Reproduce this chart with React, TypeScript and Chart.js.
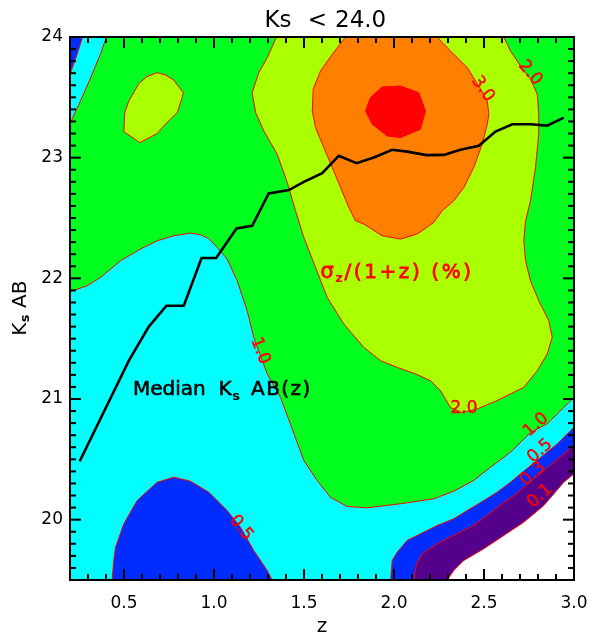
import React, { useEffect, useRef } from 'react';
import { Chart, registerables } from 'chart.js';

Chart.register(...registerables);

// ---- axes ----
const Z_MIN = 0.2;
const Z_MAX = 3.0;
const K_MIN = 19.5;
const K_MAX = 24.0;
const X_TICKS = [0.5, 1.0, 1.5, 2.0, 2.5, 3.0];
const Y_TICKS = [20, 21, 22, 23, 24];

// ---- median Ks AB(z) ----
const MEDIAN_Z = [0.254, 0.527, 0.638, 0.736, 0.832, 0.931, 1.012, 1.125, 1.212, 1.304, 1.416, 1.499, 1.601, 1.693, 1.792, 1.888, 1.99, 2.073, 2.181, 2.277, 2.369, 2.471, 2.564, 2.657, 2.758, 2.851, 2.943];
const MEDIAN_K = [20.484, 21.318, 21.6, 21.773, 21.773, 22.168, 22.168, 22.413, 22.435, 22.704, 22.731, 22.8, 22.872, 23.015, 22.954, 23.001, 23.065, 23.05, 23.021, 23.023, 23.065, 23.098, 23.216, 23.277, 23.277, 23.266, 23.332];

// ---- filled contour regions of sigma_z/(1+z) (%), [z, Ks] vertices ----
const REGION_ALL = [[0.2, 19.5], [3.0, 19.5], [3.0, 24], [0.2, 24]];
const CYAN_TOPLEFT = [[0.2, 24], [0.403, 24], [0.369, 23.857], [0.314, 23.66], [0.258, 23.47], [0.2, 23.28]];
const BLUE_TOPLEFT = [[0.2, 24], [0.27, 24], [0.24, 23.86], [0.2, 23.69]];
const YG_ISLAND = [[0.684, 23.704], [0.731, 23.685], [0.777, 23.642], [0.829, 23.539], [0.823, 23.498], [0.796, 23.373], [0.737, 23.29], [0.684, 23.2], [0.588, 23.125], [0.499, 23.216], [0.504, 23.373], [0.527, 23.47], [0.582, 23.613], [0.626, 23.67], [0.684, 23.704]];
const YG_MAIN = [[1.347, 24], [1.296, 23.829], [1.249, 23.705], [1.212, 23.539], [1.231, 23.373], [1.277, 23.222], [1.351, 23.029], [1.407, 22.794], [1.453, 22.56], [1.499, 22.339], [1.564, 22.09], [1.629, 21.842], [1.721, 21.622], [1.832, 21.428], [1.925, 21.318], [2.018, 21.262], [2.119, 21.208], [2.203, 21.152], [2.258, 21.07], [2.314, 20.929], [2.378, 20.888], [2.462, 20.918], [2.573, 20.987], [2.721, 21.097], [2.796, 21.235], [2.851, 21.373], [2.879, 21.511], [2.86, 21.649], [2.804, 21.815], [2.758, 21.98], [2.731, 22.146], [2.721, 22.311], [2.731, 22.477], [2.758, 22.642], [2.786, 22.918], [2.804, 23.195], [2.804, 23.36], [2.796, 23.526], [2.758, 23.652], [2.703, 23.76], [2.647, 23.884], [2.61, 24]];
const ORANGE = [[1.731, 24], [1.657, 23.857], [1.592, 23.719], [1.551, 23.567], [1.546, 23.387], [1.564, 23.249], [1.61, 23.084], [1.657, 22.918], [1.703, 22.753], [1.749, 22.587], [1.786, 22.477], [1.832, 22.45], [1.934, 22.353], [2.036, 22.325], [2.129, 22.367], [2.221, 22.463], [2.268, 22.56], [2.332, 22.642], [2.388, 22.753], [2.443, 22.918], [2.49, 23.112], [2.518, 23.277], [2.527, 23.36], [2.518, 23.47], [2.481, 23.57], [2.407, 23.746], [2.351, 23.829], [2.296, 23.911], [2.24, 24]];
const RED_CORE = [[1.842, 23.387], [1.869, 23.498], [1.934, 23.586], [2.036, 23.594], [2.138, 23.539], [2.175, 23.387], [2.147, 23.236], [2.036, 23.166], [1.962, 23.18], [1.879, 23.277], [1.842, 23.387]];
const CYAN_MAIN = [[0.2, 21.889], [0.296, 21.939], [0.369, 22.007], [0.481, 22.146], [0.592, 22.243], [0.684, 22.311], [0.777, 22.353], [0.869, 22.375], [0.925, 22.361], [0.971, 22.33], [1.018, 22.256], [1.073, 22.16], [1.129, 21.98], [1.184, 21.732], [1.221, 21.511], [1.258, 21.359], [1.296, 21.208], [1.369, 21.014], [1.425, 20.79], [1.499, 20.49], [1.573, 20.325], [1.647, 20.186], [1.74, 20.109], [1.851, 20.098], [2.036, 20.132], [2.221, 20.173], [2.332, 20.236], [2.443, 20.325], [2.536, 20.435], [2.61, 20.517], [2.657, 20.573], [2.758, 20.722], [2.851, 20.794], [3.0, 21.014], [3.0, 19.5], [0.2, 19.5]];
const BLUE_LOW = [[0.434, 19.5], [0.443, 19.662], [0.453, 19.772], [0.499, 19.966], [0.573, 20.159], [0.684, 20.31], [0.777, 20.352], [0.869, 20.319], [0.971, 20.228], [1.073, 20.076], [1.147, 19.938], [1.221, 19.745], [1.296, 19.579], [1.323, 19.5]];
const BLUE_HIGHZ = [[1.981, 19.5], [1.99, 19.662], [2.018, 19.731], [2.073, 19.828], [2.166, 19.897], [2.24, 19.952], [2.332, 20.007], [2.407, 20.076], [2.499, 20.159], [2.573, 20.228], [2.647, 20.31], [2.703, 20.38], [2.805, 20.504], [2.907, 20.628], [3.0, 20.766], [3.0, 19.5]];
const PURPLE_HIGHZ = [[2.11, 19.5], [2.125, 19.635], [2.157, 19.718], [2.24, 19.8], [2.332, 19.869], [2.425, 19.938], [2.518, 20.035], [2.61, 20.145], [2.666, 20.2], [2.832, 20.407], [3.0, 20.614], [3.0, 19.5]];
const WHITE_HIGHZ = [[2.296, 19.5], [2.332, 19.579], [2.388, 19.662], [2.499, 19.759], [2.61, 19.869], [2.721, 19.979], [2.832, 20.117], [2.943, 20.31], [3.0, 20.38], [3.0, 19.5]];

// contour level labels: text, z, Ks, angle (deg)
const LEVEL_TEXT = ['3.0', '2.0', '1.0', '2.0', '0.5', '1.0', '0.5', '0.3', '0.1'];
const LEVEL_Z = [2.494, 2.756, 1.256, 2.389, 1.15, 2.789, 2.811, 2.772, 2.811];
const LEVEL_K = [23.569, 23.702, 21.398, 20.917, 19.931, 20.785, 20.569, 20.379, 20.196];
const LEVEL_ANGLE = [55, 50, 68, 0, 52, -42, -42, -42, -42];

const C_GREEN = 'rgb(0,255,30)';
const C_CYAN = 'rgb(0,255,255)';
const C_YG = 'rgb(170,255,0)';
const C_ORANGE = 'rgb(255,128,0)';
const C_RED = 'rgb(255,0,0)';
const C_BLUE = 'rgb(0,45,255)';
const C_PURPLE = 'rgb(85,0,140)';
const C_WHITE = 'rgb(255,255,255)';

const FONT = '"DejaVu Sans", "Noto Sans", sans-serif';

function poly(pts: number[][], color: string, edge: boolean) {
  return {
    data: pts.map(([x, y]) => ({ x, y })),
    backgroundColor: color,
    borderColor: edge ? 'rgb(255,0,0)' : 'rgba(0,0,0,0)',
    borderWidth: edge ? 1 : 0,
    fill: 'shape',
    pointRadius: 0,
    tension: 0,
  };
}

// draw text char by char with extra spacing, optionally thickened; returns end x
function spaced(ctx: any, text: string, x: number, y: number, gap: number, thick: number) {
  let px = x;
  for (const ch of text) {
    ctx.fillText(ch, px, y);
    if (thick > 0) ctx.strokeText(ch, px, y);
    px += ctx.measureText(ch).width + gap;
  }
  return px - gap;
}

function drawFrameAndTicks(chart: any) {
  const ctx = chart.ctx;
  const a = chart.chartArea;
  const xs = chart.scales.x;
  const ys = chart.scales.y;
  ctx.save();
  ctx.fillStyle = 'rgb(0,0,0)';
  const left = a.left;
  const right = a.right;
  const top = a.top;
  const bottom = a.bottom;
  ctx.fillRect(left - 1, top - 1, right - left + 2, 2);
  ctx.fillRect(left - 1, bottom - 1, right - left + 2, 2);
  ctx.fillRect(left - 1, top - 1, 2, bottom - top + 2);
  ctx.fillRect(right - 1, top - 1, 2, bottom - top + 2);
  const zStart = Math.round(Z_MIN * 10);
  const zEnd = Math.round(Z_MAX * 10);
  for (let i = zStart; i <= zEnd; i += 1) {
    const px = xs.getPixelForValue(i / 10);
    const len = i % 5 === 0 ? 11 : 6;
    ctx.fillRect(px - 1, bottom - len, 2, len);
    ctx.fillRect(px - 1, top, 2, len);
  }
  const kStart = Math.round(K_MIN * 10);
  const kEnd = Math.round(K_MAX * 10);
  for (let i = kStart; i <= kEnd; i += 1) {
    const py = ys.getPixelForValue(i / 10);
    const len = i % 10 === 0 ? 11 : 6;
    ctx.fillRect(left, py - 1, len, 2);
    ctx.fillRect(right - len, py - 1, len, 2);
  }
  ctx.restore();
}

const decorPlugin = {
  id: 'decor',
  afterDraw(chart: any) {
    const { ctx, chartArea: a, scales } = chart;
    const x = scales.x;
    const y = scales.y;
    ctx.save();

    // contour level labels
    ctx.fillStyle = 'rgb(255,0,0)';
    ctx.strokeStyle = 'rgb(255,0,0)';
    ctx.lineWidth = 0.4;
    ctx.font = `17px ${FONT}`;
    ctx.textAlign = 'center';
    ctx.textBaseline = 'middle';
    LEVEL_TEXT.forEach((t, i) => {
      ctx.save();
      ctx.translate(x.getPixelForValue(LEVEL_Z[i]), y.getPixelForValue(LEVEL_K[i]));
      ctx.rotate((LEVEL_ANGLE[i] * Math.PI) / 180);
      ctx.fillText(t, 0, 0);
      ctx.strokeText(t, 0, 0);
      ctx.restore();
    });
    ctx.textAlign = 'left';
    ctx.textBaseline = 'alphabetic';

    // sigma_z/(1+z) (%) label
    {
      let px = x.getPixelForValue(1.592);
      const py = y.getPixelForValue(22.0);
      ctx.lineWidth = 0.8;
      ctx.font = `21px ${FONT}`;
      px = spaced(ctx, 'σ', px, py, 0, 1) + 1.5;
      ctx.font = `bold 13px ${FONT}`;
      px = spaced(ctx, 'z', px, py + 4, 0, 0) + 1.5;
      ctx.font = `20px ${FONT}`;
      spaced(ctx, '/(1+z) (%)', px, py, 2.6, 1);
    }
    // Median Ks AB(z) label
    {
      let px = x.getPixelForValue(0.55);
      const py = y.getPixelForValue(21.03);
      ctx.fillStyle = '#000';
      ctx.strokeStyle = '#000';
      ctx.lineWidth = 0.6;
      ctx.font = `20px ${FONT}`;
      spaced(ctx, 'Median', px, py, 0, 1);
      px += ctx.measureText('Median  ').width;
      px = spaced(ctx, 'K', px, py, 0, 1) + 0.8;
      ctx.font = `bold 13px ${FONT}`;
      px = spaced(ctx, 's', px, py + 5, 0, 0) + 11;
      ctx.font = `20px ${FONT}`;
      spaced(ctx, 'AB(z)', px, py, 1.4, 1);
    }

    // title
    ctx.fillStyle = '#000';
    ctx.font = `23px ${FONT}`;
    ctx.fillText('Ks', 264.4, 26.7);
    ctx.fillText('<', 307.7, 26.7);
    ctx.fillText('24.0', 335, 26.7);

    // x title
    ctx.font = `20px ${FONT}`;
    ctx.textAlign = 'center';
    ctx.fillText('z', (a.left + a.right) / 2, 631.7);
    ctx.textAlign = 'left';

    // y title (rotated)
    ctx.save();
    ctx.translate(25.5, (a.top + a.bottom) / 2);
    ctx.rotate(-Math.PI / 2);
    ctx.font = `20px ${FONT}`;
    let tx = -27.3;
    ctx.fillText('K', tx, 0);
    tx += ctx.measureText('K').width + 0.5;
    ctx.font = `bold 13px ${FONT}`;
    ctx.fillText('s', tx, 3.5);
    ctx.font = `20px ${FONT}`;
    ctx.fillText('AB', 0.5, 0);
    ctx.restore();

    ctx.restore();

    drawFrameAndTicks(chart);
  },
};

export default function App() {
  const ref = useRef<HTMLCanvasElement | null>(null);
  useEffect(() => {
    if (!ref.current) return;
    const layers = [
      poly(REGION_ALL, C_GREEN, false),
      poly(CYAN_TOPLEFT, C_CYAN, true),
      poly(BLUE_TOPLEFT, C_BLUE, true),
      poly(YG_ISLAND, C_YG, true),
      poly(YG_MAIN, C_YG, true),
      poly(ORANGE, C_ORANGE, true),
      poly(RED_CORE, C_RED, true),
      poly(CYAN_MAIN, C_CYAN, true),
      poly(BLUE_LOW, C_BLUE, true),
      poly(BLUE_HIGHZ, C_BLUE, true),
      poly(PURPLE_HIGHZ, C_PURPLE, true),
      poly(WHITE_HIGHZ, C_WHITE, true),
      {
        data: MEDIAN_Z.map((z, i) => ({ x: z, y: MEDIAN_K[i] })),
        borderColor: '#000',
        borderWidth: 2.6,
        fill: false,
        pointRadius: 0,
        tension: 0,
      },
    ];
    const datasets = layers.map((d, i) => ({ ...d, order: layers.length - i }));
    const chart = new Chart(ref.current, {
      type: 'line',
      data: { datasets: datasets as any },
      options: {
        responsive: false,
        animation: false,
        events: [],
        layout: { padding: { top: 37, right: 16, left: 0, bottom: 0 } },
        plugins: { legend: { display: false }, tooltip: { enabled: false }, title: { display: false } },
        scales: {
          x: {
            type: 'linear',
            min: Z_MIN,
            max: Z_MAX,
            grid: { display: false, drawTicks: false },
            border: { display: false },
            ticks: {
              color: '#000',
              font: { family: FONT, size: 17 },
              padding: 13,
              maxRotation: 0,
              autoSkip: false,
              callback: (v: any) => Number(v).toFixed(1),
            },
            afterBuildTicks: (s: any) => {
              s.ticks = X_TICKS.map((value) => ({ value }));
            },
            afterFit: (s: any) => {
              s.height = 57;
              s.paddingLeft = 0;
              s.paddingRight = 0;
            },
          },
          y: {
            type: 'linear',
            min: K_MIN,
            max: K_MAX,
            grid: { display: false, drawTicks: false },
            border: { display: false },
            ticks: {
              color: '#000',
              font: { family: FONT, size: 17 },
              padding: 7,
              autoSkip: false,
              callback: (v: any) => String(Math.round(Number(v))),
            },
            afterBuildTicks: (s: any) => {
              s.ticks = Y_TICKS.map((value) => ({ value }));
            },
            afterFit: (s: any) => {
              s.width = 70;
              s.paddingTop = 0;
              s.paddingBottom = 0;
            },
          },
        },
      } as any,
      plugins: [decorPlugin],
    });
    return () => chart.destroy();
  }, []);
  return (
    <div style={{ position: 'absolute', left: 0, top: 0, width: 590, height: 637, background: '#fff' }}>
      <canvas ref={ref} width={590} height={637} style={{ display: 'block' }} />
    </div>
  );
}
